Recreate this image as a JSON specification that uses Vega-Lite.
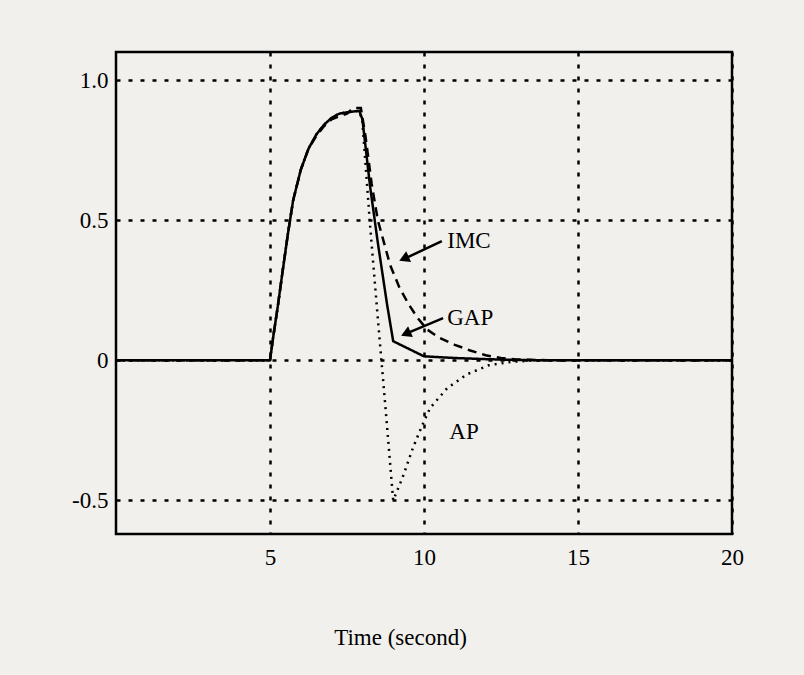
{
  "$schema": "https://vega.github.io/schema/vega-lite/v6.json",
  "width": 616,
  "height": 482,
  "autosize": "none",
  "padding": {"left": 116, "top": 52, "right": 72, "bottom": 141},
  "background": "#f1f0ed",
  "config": {
    "view": {"stroke": "black", "strokeWidth": 2.5, "fill": "#f1f0ed"},
    "axis": {
      "grid": true, "gridColor": "black", "gridDash": [4, 8], "gridWidth": 2.5, "gridOpacity": 1,
      "domain": false, "ticks": false, "labelFlush": false, "labelOverlap": false,
      "labelFont": "Liberation Serif", "labelFontSize": 23, "labelColor": "black",
      "titleFont": "Liberation Serif", "titleFontSize": 23, "titleFontWeight": "normal", "titleColor": "black"
    }
  },
  "layer": [
    {
      "data": {"values": [
        {"series": "GAP", "t": 0, "v": 0}, {"series": "GAP", "t": 5, "v": 0}, {"series": "GAP", "t": 5.1, "v": 0.08},
        {"series": "GAP", "t": 5.25, "v": 0.19}, {"series": "GAP", "t": 5.4, "v": 0.31}, {"series": "GAP", "t": 5.58, "v": 0.45},
        {"series": "GAP", "t": 5.75, "v": 0.57}, {"series": "GAP", "t": 6.0, "v": 0.68}, {"series": "GAP", "t": 6.25, "v": 0.755},
        {"series": "GAP", "t": 6.5, "v": 0.805}, {"series": "GAP", "t": 6.75, "v": 0.84}, {"series": "GAP", "t": 7.0, "v": 0.865},
        {"series": "GAP", "t": 7.25, "v": 0.88}, {"series": "GAP", "t": 7.5, "v": 0.885}, {"series": "GAP", "t": 7.9, "v": 0.89},
        {"series": "GAP", "t": 8.0, "v": 0.86}, {"series": "GAP", "t": 8.25, "v": 0.62}, {"series": "GAP", "t": 8.5, "v": 0.42},
        {"series": "GAP", "t": 8.8, "v": 0.2}, {"series": "GAP", "t": 9.0, "v": 0.068}, {"series": "GAP", "t": 10.0, "v": 0.014},
        {"series": "GAP", "t": 11.0, "v": 0.008}, {"series": "GAP", "t": 12.0, "v": 0.004}, {"series": "GAP", "t": 13.0, "v": 0.001},
        {"series": "GAP", "t": 14.0, "v": 0}, {"series": "GAP", "t": 20, "v": 0},

        {"series": "IMC", "t": 0, "v": 0}, {"series": "IMC", "t": 5, "v": 0}, {"series": "IMC", "t": 5.1, "v": 0.08},
        {"series": "IMC", "t": 5.25, "v": 0.19}, {"series": "IMC", "t": 5.4, "v": 0.31}, {"series": "IMC", "t": 5.58, "v": 0.45},
        {"series": "IMC", "t": 5.75, "v": 0.57}, {"series": "IMC", "t": 6.0, "v": 0.68}, {"series": "IMC", "t": 6.25, "v": 0.755},
        {"series": "IMC", "t": 6.5, "v": 0.8}, {"series": "IMC", "t": 6.75, "v": 0.835}, {"series": "IMC", "t": 7.0, "v": 0.86},
        {"series": "IMC", "t": 7.25, "v": 0.87}, {"series": "IMC", "t": 7.5, "v": 0.88}, {"series": "IMC", "t": 7.7, "v": 0.9},
        {"series": "IMC", "t": 7.95, "v": 0.9}, {"series": "IMC", "t": 8.1, "v": 0.8}, {"series": "IMC", "t": 8.3, "v": 0.63},
        {"series": "IMC", "t": 8.5, "v": 0.5}, {"series": "IMC", "t": 8.7, "v": 0.42}, {"series": "IMC", "t": 8.9, "v": 0.34},
        {"series": "IMC", "t": 9.2, "v": 0.26}, {"series": "IMC", "t": 9.5, "v": 0.2}, {"series": "IMC", "t": 9.8, "v": 0.15},
        {"series": "IMC", "t": 10.1, "v": 0.11}, {"series": "IMC", "t": 10.5, "v": 0.08}, {"series": "IMC", "t": 11.0, "v": 0.055},
        {"series": "IMC", "t": 11.5, "v": 0.035}, {"series": "IMC", "t": 12.0, "v": 0.018}, {"series": "IMC", "t": 12.5, "v": 0.008},
        {"series": "IMC", "t": 13.0, "v": 0.003}, {"series": "IMC", "t": 14.0, "v": 0}, {"series": "IMC", "t": 20, "v": 0},

        {"series": "AP", "t": 0, "v": 0}, {"series": "AP", "t": 5, "v": 0}, {"series": "AP", "t": 5.1, "v": 0.08},
        {"series": "AP", "t": 5.25, "v": 0.19}, {"series": "AP", "t": 5.4, "v": 0.31}, {"series": "AP", "t": 5.58, "v": 0.45},
        {"series": "AP", "t": 5.75, "v": 0.57}, {"series": "AP", "t": 6.0, "v": 0.68}, {"series": "AP", "t": 6.25, "v": 0.755},
        {"series": "AP", "t": 6.5, "v": 0.805}, {"series": "AP", "t": 6.75, "v": 0.84}, {"series": "AP", "t": 7.0, "v": 0.865},
        {"series": "AP", "t": 7.25, "v": 0.88}, {"series": "AP", "t": 7.5, "v": 0.885}, {"series": "AP", "t": 7.9, "v": 0.89},
        {"series": "AP", "t": 8.0, "v": 0.85}, {"series": "AP", "t": 8.25, "v": 0.48}, {"series": "AP", "t": 8.5, "v": 0.15},
        {"series": "AP", "t": 8.75, "v": -0.17}, {"series": "AP", "t": 9.0, "v": -0.5}, {"series": "AP", "t": 9.3, "v": -0.42},
        {"series": "AP", "t": 9.65, "v": -0.31}, {"series": "AP", "t": 9.95, "v": -0.23}, {"series": "AP", "t": 10.2, "v": -0.17},
        {"series": "AP", "t": 10.75, "v": -0.1}, {"series": "AP", "t": 11.4, "v": -0.05}, {"series": "AP", "t": 12.1, "v": -0.018},
        {"series": "AP", "t": 12.8, "v": -0.006}, {"series": "AP", "t": 13.5, "v": -0.001}, {"series": "AP", "t": 14.0, "v": 0},
        {"series": "AP", "t": 20, "v": 0}
      ]},
      "mark": {"type": "line", "color": "black", "strokeWidth": 2.5},
      "encoding": {
        "x": {"field": "t", "type": "quantitative", "scale": {"domain": [0, 20], "nice": false},
              "axis": {"values": [5, 10, 15, 20], "labelPadding": 12, "title": "Time (second)",
                       "titleX": 284, "titleY": 110, "titleBaseline": "alphabetic", "titleAnchor": "middle", "titleAlign": "center"}},
        "y": {"field": "v", "type": "quantitative", "scale": {"domain": [-0.62, 1.1], "nice": false, "zero": false},
              "axis": {"values": [-0.5, 0, 0.5, 1], "labelPadding": 8, "title": null,
                       "labelExpr": "datum.value == 0 ? '0' : (datum.value < 0 ? '-' + format(-datum.value, '.1f') : format(datum.value, '.1f'))"}},
        "strokeDash": {"field": "series", "type": "nominal",
                       "scale": {"domain": ["GAP", "IMC", "AP"], "range": [[1, 0], [9, 6], [2, 5]]}, "legend": null},
        "detail": {"field": "series"}
      }
    },
    {
      "data": {"values": [
        {"label": "IMC", "t": 10.58, "v": 0.425, "t2": 9.32, "v2": 0.36},
        {"label": "GAP", "t": 10.62, "v": 0.15, "t2": 9.38, "v2": 0.093}
      ]},
      "mark": {"type": "rule", "color": "black", "strokeWidth": 2.5},
      "encoding": {
        "x": {"field": "t", "type": "quantitative"},
        "y": {"field": "v", "type": "quantitative"},
        "x2": {"field": "t2"},
        "y2": {"field": "v2"}
      }
    },
    {
      "data": {"values": [
        {"label": "IMC", "t": 9.4, "v": 0.365},
        {"label": "GAP", "t": 9.46, "v": 0.097}
      ]},
      "mark": {"type": "point", "shape": "triangle", "filled": true, "color": "black", "opacity": 1, "size": 140, "angle": 246},
      "encoding": {
        "x": {"field": "t", "type": "quantitative"},
        "y": {"field": "v", "type": "quantitative"}
      }
    },
    {
      "data": {"values": [
        {"label": "IMC", "t": 11.46, "v": 0.425},
        {"label": "GAP", "t": 11.5, "v": 0.15},
        {"label": "AP", "t": 11.3, "v": -0.257}
      ]},
      "mark": {"type": "text", "font": "Liberation Serif", "fontSize": 23, "color": "black", "align": "center", "baseline": "middle"},
      "encoding": {
        "x": {"field": "t", "type": "quantitative"},
        "y": {"field": "v", "type": "quantitative"},
        "text": {"field": "label"}
      }
    }
  ]
}
